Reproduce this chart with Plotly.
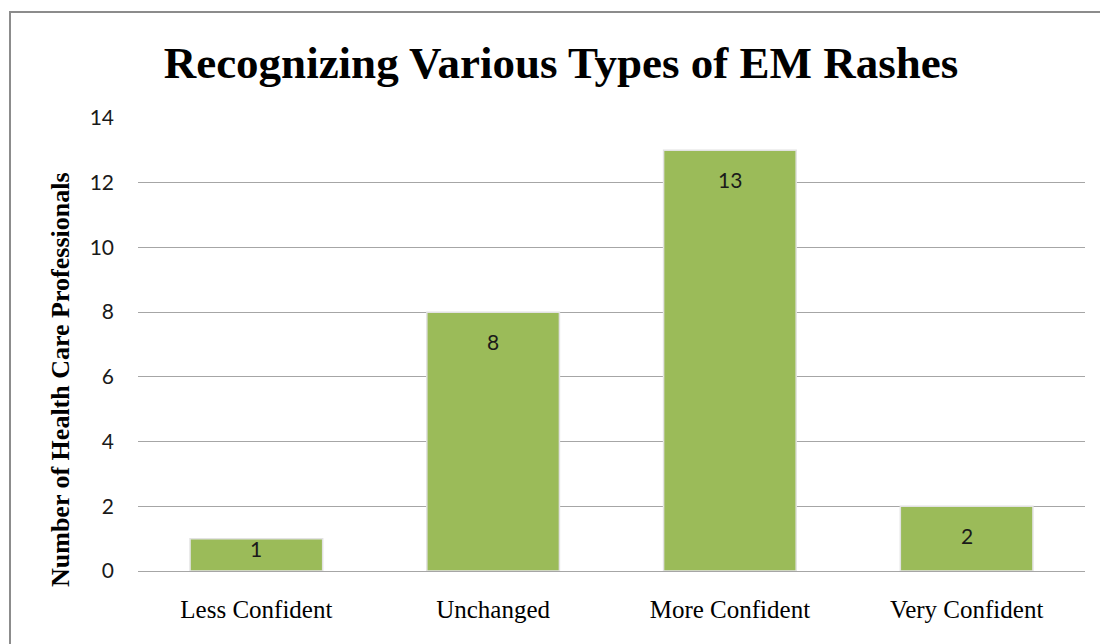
import plotly.graph_objects as go

categories = ["Less Confident", "Unchanged", "More Confident", "Very Confident"]
values = [1, 8, 13, 2]
y_ticks = [0, 2, 4, 6, 8, 10, 12, 14]

W, H = 1100, 644
L, R, T, B = 138, 15, 118, 73
pw, ph = W - L - R, H - T - B
YMAX = 14

def px_x(x):
    return (x - L) / pw

def px_y(y):
    return (H - B - y) / ph

fig = go.Figure()
fig.add_trace(go.Bar(
    x=categories, y=values,
    width=0.56,
    marker=dict(color="#9BBB59", line=dict(color="#E2E2E2", width=1.5)),
    showlegend=False,
    hoverinfo="x+y",
))

# value labels placed inside the bar near its top (Excel "inside end")
annotations = []
for c, v in zip(categories, values):
    bar_h = v * ph / YMAX
    shift = -min(29, bar_h - 22)
    annotations.append(dict(x=c, y=v, xref="x", yref="y", text=str(v), showarrow=False,
                            yshift=shift, yanchor="middle",
                            font=dict(family="Lato, Liberation Sans", size=21, color="#1a1a1a")))

# y-axis title
annotations.append(dict(x=px_x(60), y=px_y(380), xref="paper", yref="paper",
                        text="<b>Number of Health Care Professionals</b>", textangle=-90,
                        showarrow=False, xanchor="center", yanchor="middle",
                        font=dict(family="Liberation Serif, Times New Roman", size=26, color="black")))

fig.update_layout(
    width=W, height=H,
    margin=dict(l=L, r=R, t=T, b=B),
    paper_bgcolor="white", plot_bgcolor="white",
    title=dict(text="<b>Recognizing Various Types of EM Rashes</b>",
               font=dict(family="Liberation Serif, Times New Roman", size=45, color="black"),
               x=561 / W, xanchor="center", y=1 - 62 / H, yanchor="middle"),
    annotations=annotations,
    shapes=[dict(type="rect", xref="paper", yref="paper",
                 x0=px_x(10), x1=px_x(1104), y0=px_y(700), y1=px_y(12),
                 line=dict(color="#8C8C8C", width=2), fillcolor="rgba(0,0,0,0)", layer="below")],
)
fig.update_xaxes(
    tickfont=dict(family="Liberation Serif, Times New Roman", size=25, color="black"),
    showline=False, ticks="", showgrid=False, ticklabelstandoff=21,
)
fig.update_yaxes(
    range=[0, YMAX], tickvals=y_ticks, ticktext=[str(t) for t in y_ticks],
    tickfont=dict(family="Lato, Liberation Sans", size=21, color="#1a1a1a"),
    showgrid=True, gridcolor="#A6A6A6", gridwidth=1.3,
    zeroline=True, zerolinecolor="#A6A6A6", zerolinewidth=1.3,
    ticks="", ticklen=0, ticklabelstandoff=23,
)

fig.write_html("out.html", config={"displayModeBar": False},
               post_script="document.body.style.margin='0';document.body.style.overflow='hidden';")
